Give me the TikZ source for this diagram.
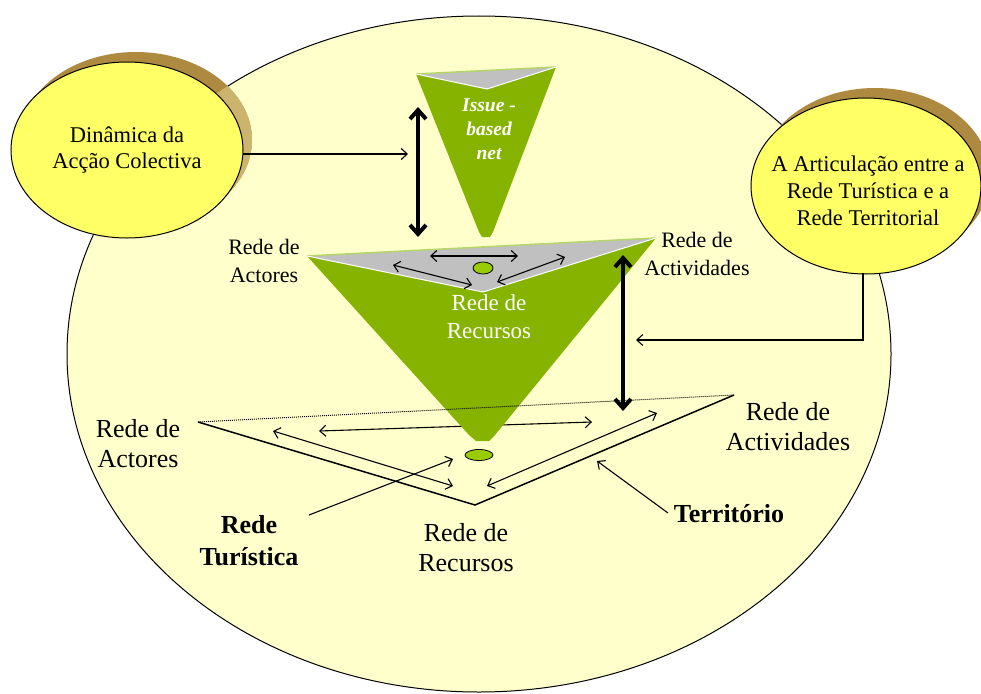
\documentclass[tikz,border=0pt]{standalone}
\usepackage{fontspec}
\setmainfont{Liberation Serif}
\usetikzlibrary{arrows.meta,shapes.geometric}
\definecolor{bigfill}{HTML}{FFFFCC}
\definecolor{smallfill}{HTML}{FFFF66}
\definecolor{shadowA}{HTML}{AE8940}
\definecolor{shadowB}{HTML}{CDB46E}
\definecolor{conegreen}{HTML}{86B300}
\definecolor{conegray}{HTML}{C0C0C0}
\definecolor{dotgreen}{HTML}{99CC00}
\definecolor{edgegreen}{HTML}{B5D66B}
\begin{document}
\begin{tikzpicture}[x=1pt,y=-1pt,
  thinarr/.style={line width=1.1pt,-{Straight Barb[length=6pt,width=11pt]}},
  thinboth/.style={line width=1.1pt,{Straight Barb[length=6pt,width=11pt]}-{Straight Barb[length=6pt,width=11pt]}},
  thickboth/.style={line width=4pt,{Straight Barb[length=9pt,width=16pt]}-{Straight Barb[length=9pt,width=16pt]}},
  smallell/.style={ellipse,draw=black,line width=1pt,fill=smallfill,minimum width=232pt,minimum height=176pt,inner sep=0pt},
  elltext/.style={align=center,inner sep=0pt,font=\fontsize{22.5}{26.5}\selectfont},
  lab/.style={align=center,inner sep=0pt,font=\fontsize{22}{28}\selectfont},
  biglab/.style={align=center,inner sep=0pt,font=\fontsize{26}{30}\selectfont},
  boldlab/.style={align=center,inner sep=0pt,font=\fontsize{26}{32}\selectfont\bfseries},
  dot/.style={draw=black,line width=0.8pt,fill=dotgreen}]
\useasboundingbox (0,0) rectangle (981,693);
% big background ellipse
\fill[bigfill,draw=black,line width=1pt] (479,354) ellipse [x radius=412pt,y radius=338pt];
% shadows of the small ellipses
\fill[shadowA] (136,140) ellipse [x radius=116pt,y radius=88pt];
\fill[shadowA] (875,176) ellipse [x radius=115pt,y radius=88pt];
\begin{scope}
  \clip (479,354) ellipse [x radius=412pt,y radius=338pt];
  \fill[shadowB] (136,140) ellipse [x radius=116pt,y radius=88pt];
  \fill[shadowB] (875,176) ellipse [x radius=115pt,y radius=88pt];
\end{scope}
% small ellipses
\node[smallell] (L) at (127,150) {};
\node[elltext] (Ltext) at (L.center) {Dinâmica da\\Acção Colectiva};
\node[smallell,minimum width=230pt] (R) at (866,186) {};
\node[elltext,font=\fontsize{22.5}{27}\selectfont] (Rtext) at (868,191) {A Articulação entre a\\Rede Turística e a\\Rede Territorial};

% territory plane
\coordinate (pL) at (198,422);
\coordinate (pB) at (475,505);
\coordinate (pR) at (734,395);
\draw[line width=1.5pt] (pL) -- (pB) -- (pR);
\coordinate (a1s) at (319,431); \coordinate (a1e) at (592,422);
\coordinate (a2s) at (273,431); \coordinate (a2e) at (453,486);
\coordinate (a3s) at (487,486); \coordinate (a3e) at (657,413);
\draw[thinboth] (a1s) -- (a1e);
\draw[thinboth] (a2s) -- (a2e);
\draw[thinboth] (a3s) -- (a3e);
\node[dot,ellipse,minimum width=28pt,minimum height=11pt,inner sep=0pt] (pdot) at (479,455) {};

% big cone
\coordinate (cL) at (307,256);
\coordinate (cR) at (656,238);
\coordinate (cF) at (483,292);
\fill[conegreen] (cL) -- (469,435) -- (476,441) -- (489,441) -- (495,435) -- (cR) -- cycle;
\fill[conegray] (cL) -- (cF) -- (cR) -- cycle;
\draw[edgegreen,line width=1.5pt] (cL) -- (cR);
\draw[white,line width=1pt] (cL) -- (cF) -- (cR);
\coordinate (g1s) at (430,256); \coordinate (g1e) at (518,256);
\coordinate (g2s) at (393,265); \coordinate (g2e) at (472,285);
\coordinate (g3s) at (497,282); \coordinate (g3e) at (565,257);
\draw[thinboth] (g1s) -- (g1e);
\draw[thinboth] (g2s) -- (g2e);
\draw[thinboth] (g3s) -- (g3e);
\node[dot,ellipse,minimum width=20pt,minimum height=12pt,inner sep=0pt] (cdot) at (483,268) {};
\node[lab,text=white,font=\fontsize{23}{28}\selectfont] (crec) at (489,317) {Rede de\\Recursos};

% dotted back edge of the plane (over the cone)
\draw[line width=1pt,densely dotted] (pL) -- (pR);

% small cone
\coordinate (sL) at (416,74);
\coordinate (sR) at (556,67);
\coordinate (sF) at (487,89);
\fill[conegreen] (sL) -- (479,232) -- (482,237) -- (490,237) -- (493,232) -- (sR) -- cycle;
\fill[conegray] (sL) -- (sF) -- (sR) -- cycle;
\draw[edgegreen,line width=1.5pt] (sL) -- (sR);
\draw[white,line width=1pt] (sL) -- (sF) -- (sR);
\node[align=center,inner sep=0pt,text=white,font=\fontsize{19.5}{24}\selectfont\bfseries\itshape] (issue) at (489,129) {Issue -\\based\\net};

% thick vertical arrows
\coordinate (t1s) at (418,107); \coordinate (t1e) at (418,237);
\coordinate (t2s) at (623,255); \coordinate (t2e) at (623,411);
\draw[thickboth] (t1s) -- (t1e);
\draw[thickboth] (t2s) -- (t2e);

% arrows from the ellipses
\coordinate (la) at (243,154); \coordinate (lb) at (408,154);
\draw[thinarr] (la) -- (lb);
\coordinate (ra) at (863,273); \coordinate (rb) at (636,340);
\draw[thinarr] (ra) |- (rb);

% labels
\node[lab] (tlab) at (264,261) {Rede de\\Actores};
\node[lab] (trab) at (697,254) {Rede de\\Actividades};
\node[biglab] (blab) at (138,444) {Rede de\\Actores};
\node[biglab] (brab) at (788,427) {Rede de\\Actividades};
\node[biglab] (bcab) at (466,548) {Rede de\\Recursos};
\node[boldlab] (tur) at (249,541) {Rede\\Turística};
\node[boldlab] (ter) at (729,514) {Território};

% pointers
\coordinate (tp1) at (309,515); \coordinate (tp2) at (453,459);
\draw[thinarr] (tp1) -- (tp2);
\coordinate (tr1) at (668,513); \coordinate (tr2) at (597,461);
\draw[thinarr] (tr1) -- (tr2);
\end{tikzpicture}
\end{document}
